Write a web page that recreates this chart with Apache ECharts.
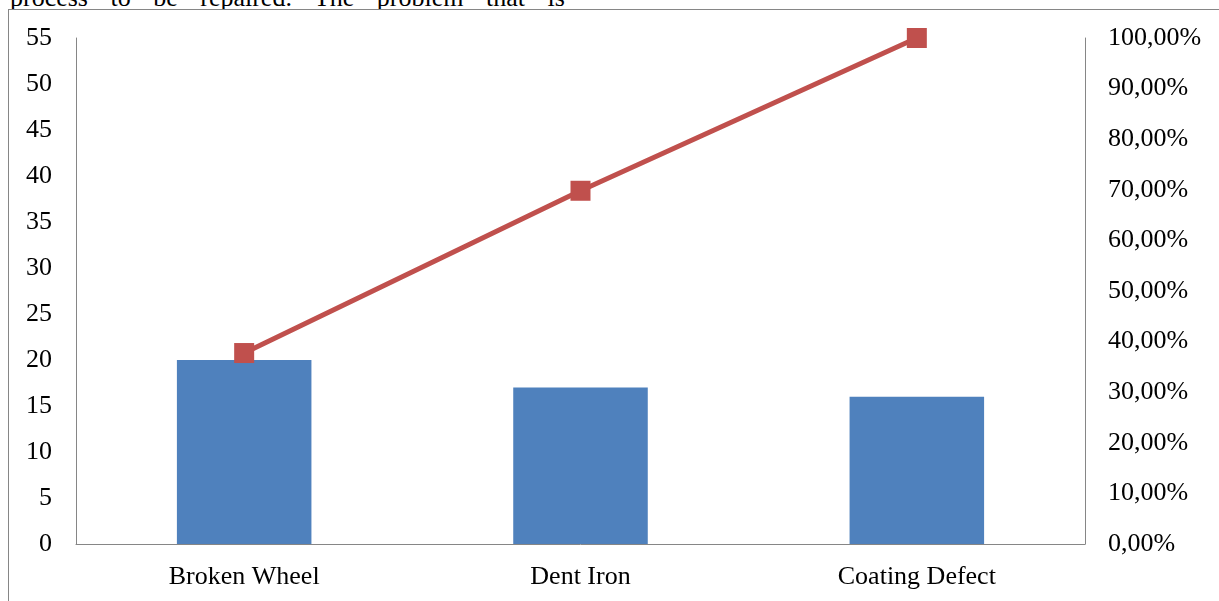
<!DOCTYPE html>
<html>
<head>
<meta charset="utf-8">
<script src="https://cdn.jsdelivr.net/npm/echarts@6/dist/echarts.min.js"></script>
<style>
  html, body { margin: 0; padding: 0; background: #fff; overflow: hidden; }
  #wrap { position: relative; width: 1219px; height: 601px; }
  #caption {
    position: absolute; left: 10px; top: -15px;
    font-family: "Liberation Serif", "Times New Roman", serif;
    font-size: 26px; line-height: 26px; color: #000;
    white-space: nowrap; word-spacing: 16px;
  }
  #frame {
    position: absolute; left: 8px; top: 9px; width: 1300px; height: 700px;
    border-top: 1px solid #868686; border-left: 1px solid #868686;
    background: #fff;
  }
  #chart { position: absolute; left: 0; top: 0; width: 1219px; height: 601px; }
</style>
</head>
<body>
<div id="wrap">
  <div id="caption">process to be repaired. The problem that is</div>
  <div id="frame"></div>
  <div id="chart"></div>
</div>
<script>
// Defect counts per category and the cumulative share (Pareto line)
const categories = ['Broken Wheel', 'Dent Iron', 'Coating Defect'];
const defectCounts = [20, 17, 16];
const cumulativeShare = [0.3774, 0.6981, 1.0];
const leftTicks = { min: 0, max: 55, interval: 5 };
const rightTicks = { min: 0, max: 1, interval: 0.1 };

const FONT = '"Liberation Serif", "Times New Roman", serif';
const AXIS_GREY = '#868686';

const chart = echarts.init(document.getElementById('chart'), null, { renderer: 'canvas' });

chart.setOption({
  animation: false,
  backgroundColor: 'transparent',
  grid: { left: 76, right: 134, top: 38, bottom: 57, containLabel: false },
  xAxis: {
    type: 'category',
    data: categories,
    axisLine: { show: true, lineStyle: { color: AXIS_GREY, width: 1 } },
    axisTick: { show: false },
    axisLabel: { color: '#000', fontFamily: FONT, fontSize: 26, margin: 20 },
    splitLine: { show: false }
  },
  yAxis: [
    {
      type: 'value',
      min: leftTicks.min, max: leftTicks.max, interval: leftTicks.interval,
      axisLine: { show: true, lineStyle: { color: AXIS_GREY, width: 1 } },
      axisTick: { show: false },
      splitLine: { show: false },
      axisLabel: { color: '#000', fontFamily: FONT, fontSize: 26, margin: 24 }
    },
    {
      type: 'value',
      position: 'right',
      min: rightTicks.min, max: rightTicks.max, interval: rightTicks.interval,
      axisLine: { show: true, lineStyle: { color: AXIS_GREY, width: 1 } },
      axisTick: { show: false },
      splitLine: { show: false },
      axisLabel: {
        color: '#000', fontFamily: FONT, fontSize: 26, margin: 23,
        formatter: v => (v * 100).toFixed(2).replace('.', ',') + '%'
      }
    }
  ],
  series: [
    {
      name: 'Count',
      type: 'bar',
      yAxisIndex: 0,
      data: defectCounts,
      barWidth: '40%',
      itemStyle: { color: '#4F81BD' }
    },
    {
      name: 'Cumulative',
      type: 'line',
      yAxisIndex: 1,
      data: cumulativeShare,
      symbol: 'rect',
      symbolSize: 20,
      lineStyle: { color: '#C0504D', width: 5 },
      itemStyle: { color: '#C0504D' },
      z: 5
    }
  ]
});
</script>
</body>
</html>
